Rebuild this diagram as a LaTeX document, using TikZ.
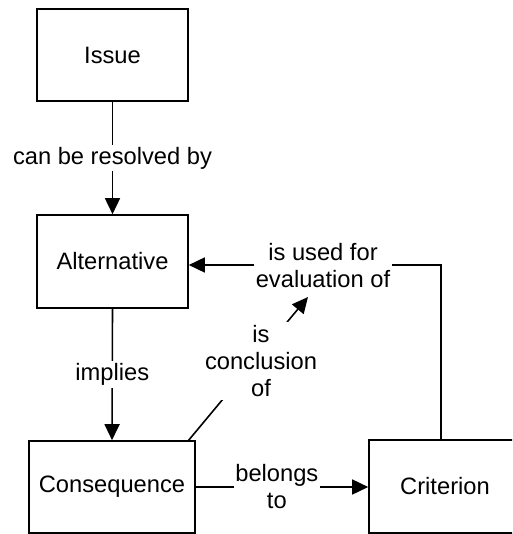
\documentclass[tikz,border=0pt]{standalone}
\usepackage{fontspec}
\setmainfont{Liberation Sans}
\usetikzlibrary{arrows.meta}

\tikzset{
  concept/.style={draw, line width=1.6pt, inner sep=0pt, align=center},
  rel/.style={fill=white, inner xsep=1.5pt, inner ysep=2pt, align=center},
  link/.style={line width=1.6pt, -{Triangle[length=16pt,width=15pt]}},
  plain/.style={line width=1.6pt},
}

\begin{document}
\begin{tikzpicture}[x=1pt, y=-1pt, font=\fontsize{23.7}{27}\selectfont]
  \path[use as bounding box] (0,0) rectangle (512,534);
  \clip (0,0) rectangle (512,534);

  % concepts
  \node[concept, minimum width=151pt, minimum height=92pt] (issue) at (112.5,55) {Issue};
  \node[concept, minimum width=151pt, minimum height=93pt] (alt) at (112.5,261.5) {Alternative};
  \node[concept, minimum width=166pt, minimum height=92pt] (cons) at (112,487) {Consequence};
  \node[concept, minimum width=152pt, minimum height=93pt] (crit) at (445,486.5) {Criterion};

  % helper points
  \coordinate (bend) at (441,265);
  \coordinate (cstart) at (188,441);
  \coordinate (ctip) at (308,297);

  % Issue -> Alternative
  \draw[link] (issue.south) -- node[rel] {can be resolved by} (alt.north);

  % Alternative -> Consequence
  \draw[link] (alt.south) -- node[rel] {implies} (cons.north);

  % Consequence -> Criterion
  \draw[link] (cons.east |- 0,487) -- node[rel, pos=0.47] {belongs\\to} (crit.west |- 0,487);

  % Criterion -> Alternative
  \draw[link] (crit.north -| bend) -- (bend) -- (alt.east |- bend);
  \node[rel] (used) at (323,265.5) {is used for\\evaluation of};

  % Consequence -> relation label
  \draw[link] (cstart) -- (ctip);
  \node[rel, inner ysep=3pt] (concl) at (261,361) {is\\conclusion\\of};
\end{tikzpicture}
\end{document}
